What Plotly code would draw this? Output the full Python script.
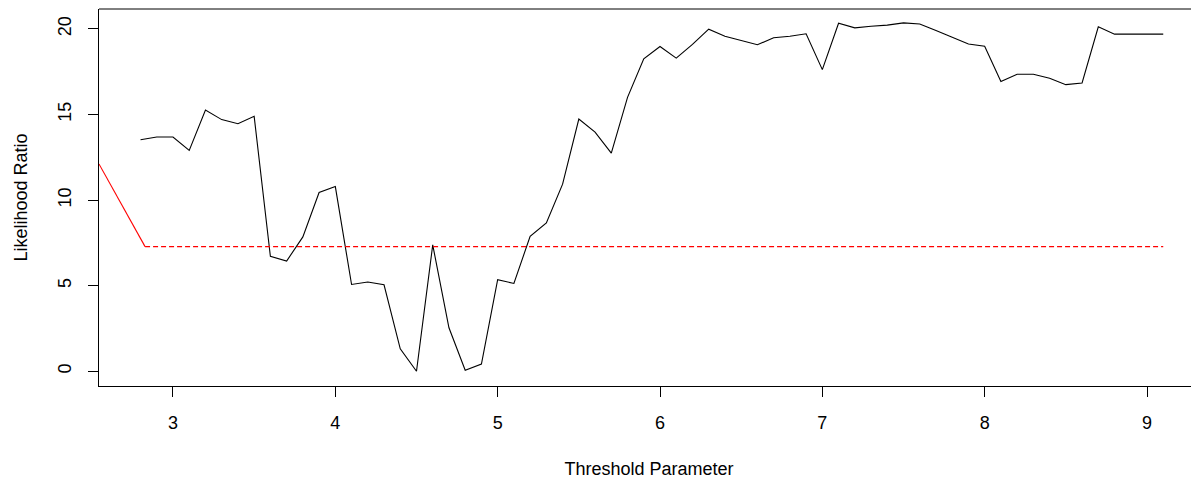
import plotly.graph_objects as go

# Threshold grid and likelihood-ratio values
threshold = [2.8, 2.9, 3.0, 3.1, 3.2, 3.3, 3.4, 3.5, 3.6, 3.7, 3.8, 3.9,
             4.0, 4.1, 4.2, 4.3, 4.4, 4.5, 4.6, 4.7, 4.8, 4.9,
             5.0, 5.1, 5.2, 5.3, 5.4, 5.5, 5.6, 5.7, 5.8, 5.9,
             6.0, 6.1, 6.2, 6.3, 6.4, 6.5, 6.6, 6.7, 6.8, 6.9,
             7.0, 7.1, 7.2, 7.3, 7.4, 7.5, 7.6, 7.7, 7.8, 7.9,
             8.0, 8.1, 8.2, 8.3, 8.4, 8.5, 8.6, 8.7, 8.8, 8.9,
             9.0, 9.1]
likelihood_ratio = [13.52, 13.68, 13.68, 12.90, 15.26, 14.70, 14.46, 14.89, 6.71, 6.44,
                    7.85, 10.44, 10.79, 5.07, 5.21, 5.05, 1.31, 0.00, 7.38, 2.54,
                    0.06, 0.42, 5.35, 5.13, 7.88, 8.67, 10.93, 14.73, 13.97, 12.74,
                    16.00, 18.25, 18.97, 18.29, 19.09, 19.98, 19.57, 19.32, 19.07, 19.48,
                    19.57, 19.71, 17.62, 20.33, 20.06, 20.15, 20.22, 20.35, 20.28, 19.90,
                    19.53, 19.12, 18.99, 16.92, 17.35, 17.35, 17.11, 16.74, 16.84, 20.12,
                    19.69, 19.69, 19.69, 19.69]

# red reference lines
red_solid_x = [2.544, 2.828]
red_solid_y = [12.11, 7.28]
red_dash_x = [2.828, 9.1]
red_dash_y = [7.28, 7.28]

x_ticks = [3, 4, 5, 6, 7, 8, 9]
y_ticks = [0, 5, 10, 15, 20]

FONT = "Liberation Sans, Arial, Helvetica, sans-serif"

fig = go.Figure()
fig.add_trace(go.Scatter(x=threshold, y=likelihood_ratio, mode="lines",
                         line=dict(color="black", width=1.1), showlegend=False))
fig.add_trace(go.Scatter(x=red_solid_x, y=red_solid_y, mode="lines",
                         line=dict(color="#ff0000", width=1.1), showlegend=False))
fig.add_trace(go.Scatter(x=red_dash_x, y=red_dash_y, mode="lines",
                         line=dict(color="#ff0000", width=1.2, dash="5px,3px"),
                         showlegend=False))

# frame: left/bottom from axis lines, top from a shape; right side lies
# outside the visible area in the reference
fig.update_layout(
    width=1191, height=471,
    margin=dict(l=91, r=0, t=1, b=93),
    paper_bgcolor="white", plot_bgcolor="white",
    font=dict(family=FONT, size=18, color="black"),
    xaxis=dict(range=[2.5442, 9.3203], tickvals=x_ticks, ticks="outside",
               ticklen=10, tickwidth=1, tickcolor="black",
               showgrid=False, zeroline=False,
               showline=True, linecolor="black", linewidth=1,
               ticklabelstandoff=10,
               title=dict(text="Threshold Parameter", standoff=31,
                          font=dict(family=FONT, size=18))),
    yaxis=dict(range=[-0.86, 21.16], tickvals=y_ticks, ticks="outside",
               ticklen=10, tickwidth=1, tickcolor="black", tickangle=-90,
               showgrid=False, zeroline=False,
               showline=True, linecolor="black", linewidth=1,
               ticklabelstandoff=10,
               title=dict(text="Likelihood Ratio", standoff=22,
                          font=dict(family=FONT, size=18))),
    shapes=[dict(type="line", xref="paper", yref="paper", x0=0, x1=1,
                 y0=1, y1=1, line=dict(color="black", width=1),
                 layer="above")],
)

fig.write_html("out.html")
